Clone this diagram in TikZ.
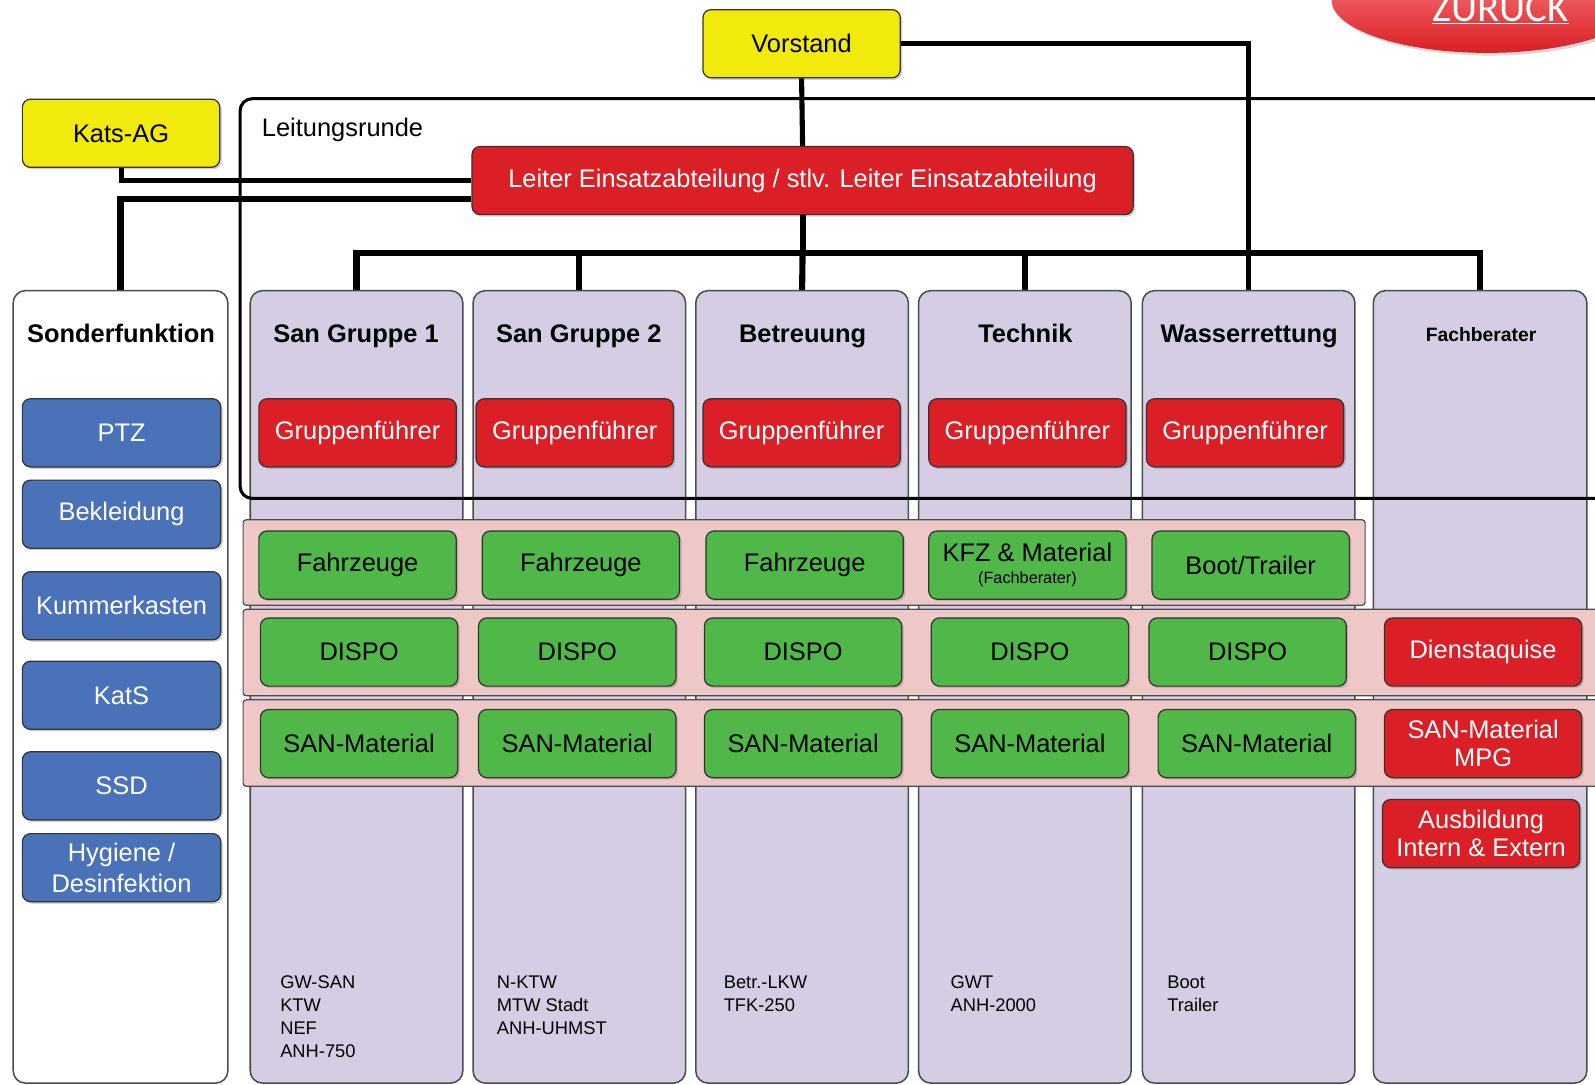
\documentclass[tikz,border=0pt]{standalone}
\usepackage{fontspec}
\setmainfont{Liberation Sans}
\newfontfamily\backfont{Carlito}
\usetikzlibrary{shadows,shapes.geometric}
\definecolor{chefyellow}{HTML}{F2EA0C}
\definecolor{leadred}{HTML}{DA1F26}
\definecolor{teamgreen}{HTML}{50B848}
\definecolor{specblue}{HTML}{4A72B8}
\definecolor{colbg}{HTML}{D5CDE3}
\definecolor{bandbg}{HTML}{EEC8C6}
\begin{document}
\begin{tikzpicture}[x=1pt,y=-1pt]
	\tikzset{box/.style = {rounded corners=8pt,draw=black!80,line width=1.2pt,minimum width=194pt,minimum height=67pt,align=center,font=\fontsize{25}{28}\selectfont,drop shadow={opacity=0.35,shadow xshift=2pt,shadow yshift=-2pt}}}
	\tikzset{chef/.style = {box,fill=chefyellow}}
	\tikzset{lead/.style = {box,fill=leadred,text=white}}
	\tikzset{team/.style = {box,fill=teamgreen}}
	\tikzset{spec/.style = {box,fill=specblue,text=white,minimum width=195pt}}
	\tikzset{col/.style = {rounded corners=12pt,draw=gray!60!black,line width=1.5pt,fill=colbg,minimum width=209pt,minimum height=779pt,anchor=north}}
	\tikzset{band/.style = {rounded corners=3pt,draw=black!70,line width=1.2pt,fill=bandbg}}
	\tikzset{title/.style = {anchor=base,font=\fontsize{25}{28}\selectfont\bfseries}}
	\tikzset{cars/.style = {anchor=north west,align=left,font=\fontsize{18}{22.5}\selectfont}}
	\tikzset{link/.style = {draw,line width=5pt}}
	\useasboundingbox (0,0) rectangle (1568,1066);
	% back button
	\node[ellipse,minimum width=306pt,minimum height=104pt,top color=red!45!white,bottom color=leadred,drop shadow={opacity=0.3}] (back) at (1462,0) {};
	\node[text=white,font=\backfont\fontsize{40}{40}\selectfont] (backtext) at (1475,6) {\underline{ZURÜCK}};
	% columns
	\node[col,fill=white,minimum width=211pt] (sonder) at (118.5,285) {};
	\node[col] (sg1) at (350.5,285) {};
	\node[col] (sg2) at (569.5,285) {};
	\node[col] (betr) at (788.5,285) {};
	\node[col] (tech) at (1007.5,285) {};
	\node[col] (wasser) at (1227.5,285) {};
	\node[col,minimum width=210pt] (fach) at (1455,285) {};
	\node[title] (tsonder) at (119,337) {Sonderfunktion};
	\node[title] (tsg1) at (350,337) {San Gruppe 1};
	\node[title] (tsg2) at (569,337) {San Gruppe 2};
	\node[title] (tbetr) at (789,337) {Betreuung};
	\node[title] (ttech) at (1008,337) {Technik};
	\node[title] (twasser) at (1228,337) {Wasserrettung};
	\node[title,font=\fontsize{19}{22}\selectfont\bfseries] (tfach) at (1456,336) {Fachberater};
	% Leitungsrunde
	\draw[line width=3pt,rounded corners=12pt] (236,490) rectangle (1590,97);
	\node[anchor=west,font=\fontsize{25}{28}\selectfont] (runde) at (254,128) {Leitungsrunde};
	\fill[band] (239,511) rectangle (1342,595);
	\fill[band] (239,599) rectangle (1590,684);
	\fill[band] (239,688) rectangle (1590,773);
	% top
	\node[chef] (vorstand) at (788,43) {Vorstand};
	\node[chef] (katsag) at (119,131) {Kats-AG};
	\node[lead,minimum width=650pt] (leiter) at (789,177.5) {Leiter Einsatzabteilung / stlv. Leiter Einsatzabteilung};
	\node[lead] (gf1) at (351.5,425.5) {Gruppenführer};
	\node[lead] (gf2) at (565,425.5) {Gruppenführer};
	\node[lead] (gf3) at (788,425.5) {Gruppenführer};
	\node[lead] (gf4) at (1010,425.5) {Gruppenführer};
	\node[lead] (gf5) at (1224,425.5) {Gruppenführer};
	% Sonderfunktion
	\node[spec] (ptz) at (119.5,425.5) {PTZ};
	\node[spec] (bekl) at (119.5,505.5) {Bekleidung};
	\node[spec] (kummer) at (119.5,595.5) {Kummerkasten};
	\node[spec] (kats) at (119.5,683.5) {KatS};
	\node[spec] (ssd) at (119.5,772.5) {SSD};
	\node[spec,font=\fontsize{25}{30}\selectfont] (hyg) at (119.5,853) {Hygiene /\\Desinfektion};
	% rows
	\node[team] (fz1) at (351.5,555.5) {Fahrzeuge};
	\node[team] (fz2) at (571,555.5) {Fahrzeuge};
	\node[team] (fz3) at (791,555.5) {Fahrzeuge};
	\node[team] (fz4) at (1010,555.5) {KFZ \& Material\\[-6pt]{\fontsize{16}{18}\selectfont(Fachberater)}};
	\node[team] (fz5) at (1229.5,555.5) {Boot/Trailer};
	\node[team] (dp1) at (353,641) {DISPO};
	\node[team] (dp2) at (567.5,641) {DISPO};
	\node[team] (dp3) at (789.5,641) {DISPO};
	\node[team] (dp4) at (1012.5,641) {DISPO};
	\node[team] (dp5) at (1226.5,641) {DISPO};
	\node[lead] (dienst) at (1458,641) {Dienstaquise};
	\node[team] (sm1) at (353,731) {SAN-Material};
	\node[team] (sm2) at (567.5,731) {SAN-Material};
	\node[team] (sm3) at (789.5,731) {SAN-Material};
	\node[team] (sm4) at (1012.5,731) {SAN-Material};
	\node[team] (sm5) at (1235.5,731) {SAN-Material};
	\node[lead] (mpg) at (1458,731) {SAN-Material\\MPG};
	\node[lead] (ausb) at (1456,819.5) {Ausbildung\\Intern \& Extern};
	% vehicles
	\node[cars] (car1) at (272,956) {GW-SAN\\KTW\\NEF\\ANH-750};
	\node[cars] (car2) at (485,956) {N-KTW\\MTW Stadt\\ANH-UHMST};
	\node[cars] (car3) at (708,956) {Betr.-LKW\\TFK-250};
	\node[cars] (car4) at (931,956) {GWT\\ANH-2000};
	\node[cars] (car5) at (1144,956) {Boot\\Trailer};
	% connectors
	\coordinate (bar) at (789,249);
	\path[link] (vorstand.south) -- (leiter.north);
	\path[link] (vorstand.east) -| (wasser.north);
	\path[link] (katsag.south) |- (leiter.west);
	\path[link,line width=6pt] ([yshift=-18pt]leiter.west) -| (sonder.north);
	\path[link,line width=6pt] (leiter.south) -- (bar) -| (sg1.north);
	\path[link,line width=6pt] (bar) -| (sg2.north);
	\path[link,line width=6pt] (bar) -- (betr.north);
	\path[link,line width=6pt] (bar) -| (tech.north);
	\path[link,line width=6pt] (bar) -| (fach.north);
\end{tikzpicture}
\end{document}
